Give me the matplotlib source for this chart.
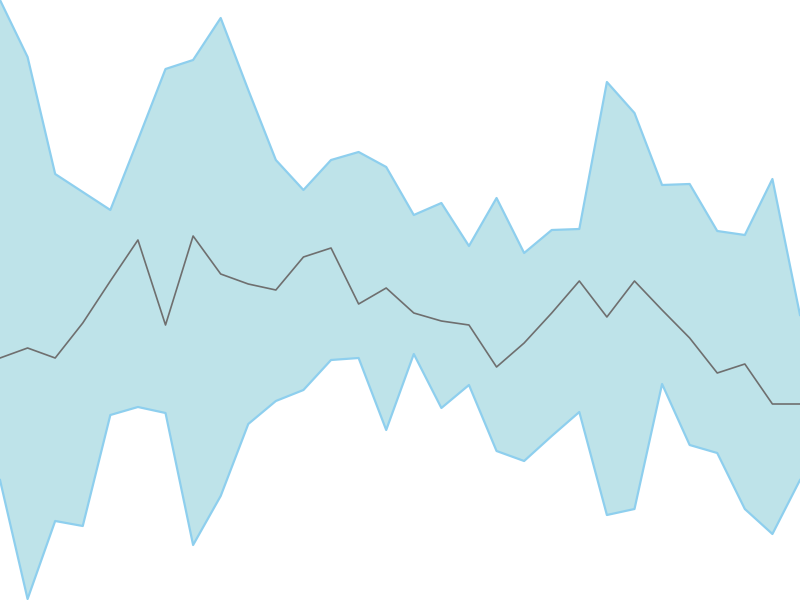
import numpy as np
import matplotlib
matplotlib.use("Agg")
import matplotlib.pyplot as plt

# values (0 = bottom, 600 = top)
upper = [600, 543, 426, 408, 390, 460, 531, 540, 582, 510,
         440, 410, 440, 448, 433, 385, 397, 354, 402, 347,
         370, 371, 518, 487, 415, 416, 369, 365, 421, 285]
middle = [242, 252, 242, 277, 319, 360, 275, 364, 326, 316,
          310, 343, 352, 296, 312, 287, 279, 275, 233, 257,
          287, 319, 283, 319, 290, 262, 227, 236, 196, 196]
lower = [120, 1, 79, 74, 185, 193, 187, 55, 104, 176,
         199, 210, 240, 242, 170, 246, 192, 215, 149, 139,
         164, 188, 85, 91, 216, 155, 147, 91, 66, 120]

x = np.arange(len(middle))

fig = plt.figure(figsize=(8, 6), dpi=100)
ax = fig.add_axes([0, 0, 1, 1])
ax.fill_between(x, lower, upper, color="#bee3e9", linewidth=0)
ax.plot(x, upper, color="#8ecfee", linewidth=1.6)
ax.plot(x, lower, color="#8ecfee", linewidth=1.6)
ax.plot(x, middle, color="#6f6f6f", linewidth=1.2)
ax.set_xlim(0, len(x) - 1)
ax.set_ylim(0, 600)
ax.axis("off")

fig.savefig("out.png", dpi=100)
